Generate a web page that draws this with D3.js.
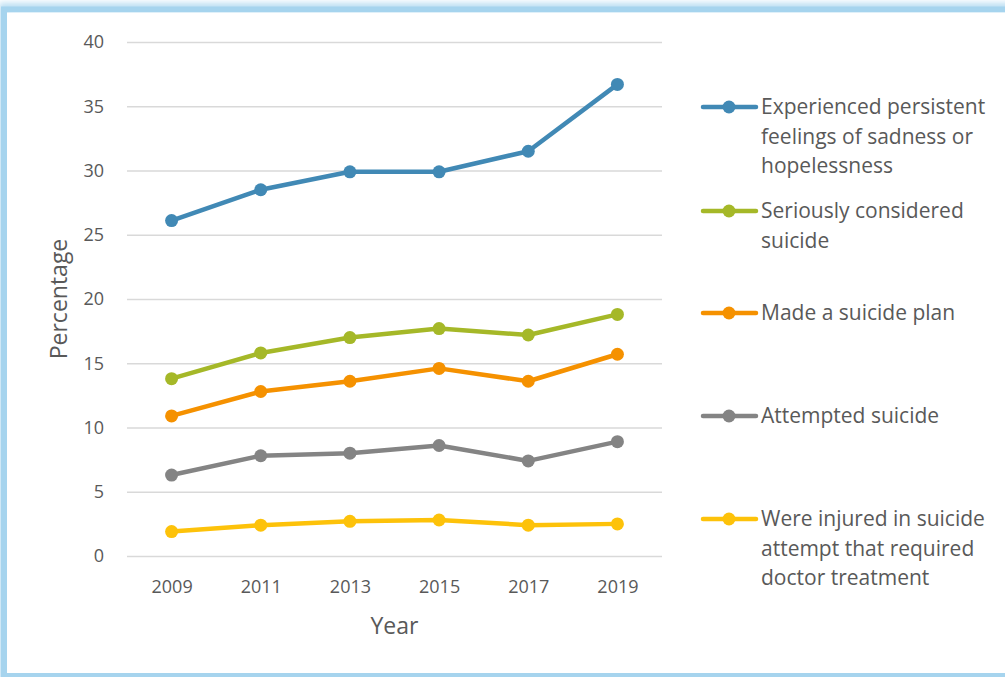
<!DOCTYPE html>
<html>
<head>
<meta charset="utf-8">
<script src="https://cdn.jsdelivr.net/npm/d3@7"></script>
<style>
  html, body { margin: 0; padding: 0; background: #fff; }
  svg { display: block; font-family: "Open Sans", "Noto Sans", sans-serif; }
</style>
</head>
<body>
<svg id="chart" width="1005" height="677"></svg>
<script>
// Youth mental health indicators, percentage by survey year
const years = ["2009", "2011", "2013", "2015", "2017", "2019"];
const yTicks = [0, 5, 10, 15, 20, 25, 30, 35, 40];

const sadness    = [26.1, 28.5, 29.9, 29.9, 31.5, 36.7];
const considered = [13.8, 15.8, 17.0, 17.7, 17.2, 18.8];
const plan       = [10.9, 12.8, 13.6, 14.6, 13.6, 15.7];
const attempted  = [6.3, 7.8, 8.0, 8.6, 7.4, 8.9];
const injured    = [1.9, 2.4, 2.7, 2.8, 2.4, 2.5];

const seriesNames = [
  ["Experienced persistent", "feelings of sadness or", "hopelessness"],
  ["Seriously considered", "suicide"],
  ["Made a suicide plan"],
  ["Attempted suicide"],
  ["Were injured in suicide", "attempt that required", "doctor treatment"]
];
const seriesColors = ["#4189b5", "#a5b828", "#f59100", "#848484", "#fdc20a"];
const seriesValues = [sadness, considered, plan, attempted, injured];

const series = seriesValues.map((v, i) => ({
  lines: seriesNames[i], color: seriesColors[i], values: v
}));

const svg = d3.select("#chart");
const textColor = "#595959";
const fontFamily = "'Open Sans', 'Noto Sans', sans-serif";

// Frame with a soft blue glow
const defs = svg.append("defs");
defs.append("filter").attr("id", "glow")
  .attr("x", "-5%").attr("y", "-5%").attr("width", "110%").attr("height", "110%")
  .append("feGaussianBlur").attr("stdDeviation", 3);
svg.append("rect")
  .attr("x", 4).attr("y", 8).attr("width", 1030).attr("height", 670)
  .attr("fill", "none").attr("stroke", "#b9ddf2").attr("stroke-width", 10)
  .attr("filter", "url(#glow)");
svg.append("rect")
  .attr("x", 4).attr("y", 9.5).attr("width", 1030).attr("height", 666.5)
  .attr("fill", "none").attr("stroke", "#a6d4ee").attr("stroke-width", 6);
svg.append("rect")
  .attr("x", 7).attr("y", 12.5).attr("width", 1030).attr("height", 660.5)
  .attr("fill", "#fff");

const plot = { left: 127, right: 662, top: 42, bottom: 556 };

const x = d3.scalePoint()
  .domain(years)
  .range([plot.left, plot.right])
  .padding(0.5);

const y = d3.scaleLinear()
  .domain([0, 40])
  .range([plot.bottom, plot.top]);

// Horizontal gridlines with value labels
const yAxis = d3.axisLeft(y)
  .tickValues(yTicks)
  .tickSize(-(plot.right - plot.left))
  .tickPadding(23)
  .tickFormat(d3.format("d"));

const gy = svg.append("g")
  .attr("transform", `translate(${plot.left},0)`)
  .call(yAxis)
  .attr("font-family", fontFamily);
gy.select(".domain").remove();
gy.selectAll(".tick line").attr("stroke", "#d9d9d9").attr("stroke-width", 1.5);
gy.selectAll(".tick text")
  .attr("fill", textColor).attr("font-size", 18).attr("dy", "0.32em");

// Category axis labels
const xAxis = d3.axisBottom(x).tickSize(0).tickPadding(24);
const gx = svg.append("g")
  .attr("transform", `translate(0,${plot.bottom})`)
  .call(xAxis)
  .attr("font-family", fontFamily);
gx.select(".domain").remove();
gx.selectAll(".tick text")
  .attr("fill", textColor).attr("font-size", 18);

// Axis titles
svg.append("text")
  .attr("x", (plot.left + plot.right) / 2).attr("y", 634)
  .attr("text-anchor", "middle")
  .attr("fill", textColor).attr("font-size", 23)
  .text("Year");

svg.append("text")
  .attr("transform", `translate(67,${(plot.top + plot.bottom) / 2}) rotate(-90)`)
  .attr("text-anchor", "middle")
  .attr("fill", textColor).attr("font-size", 23)
  .text("Percentage");

// Lines and markers
const line = d3.line()
  .x((d, i) => x(years[i]))
  .y(d => y(d));

series.forEach(s => {
  const g = svg.append("g");
  g.append("path")
    .datum(s.values)
    .attr("d", line)
    .attr("fill", "none")
    .attr("stroke", s.color)
    .attr("stroke-width", 4.5)
    .attr("stroke-linejoin", "round");
  g.selectAll("circle")
    .data(s.values)
    .join("circle")
    .attr("cx", (d, i) => x(years[i]))
    .attr("cy", d => y(d))
    .attr("r", 6.5)
    .attr("fill", s.color);
});

// Legend
const legendY = [107, 211, 313, 416, 519];
const lineH = 29.5;
series.forEach((s, i) => {
  const g = svg.append("g").attr("transform", `translate(0,${legendY[i]})`);
  g.append("line")
    .attr("x1", 703).attr("x2", 756).attr("y1", 0).attr("y2", 0)
    .attr("stroke", s.color).attr("stroke-width", 4.5)
    .attr("stroke-linecap", "round");
  g.append("circle").attr("cx", 729).attr("cy", 0).attr("r", 6.5).attr("fill", s.color);
  const t = g.append("text")
    .attr("x", 761).attr("y", 0)
    .attr("fill", textColor).attr("font-size", 21);
  s.lines.forEach((ln, k) => {
    t.append("tspan").attr("x", 761).attr("dy", k === 0 ? "0.35em" : lineH).text(ln);
  });
});
</script>
</body>
</html>
